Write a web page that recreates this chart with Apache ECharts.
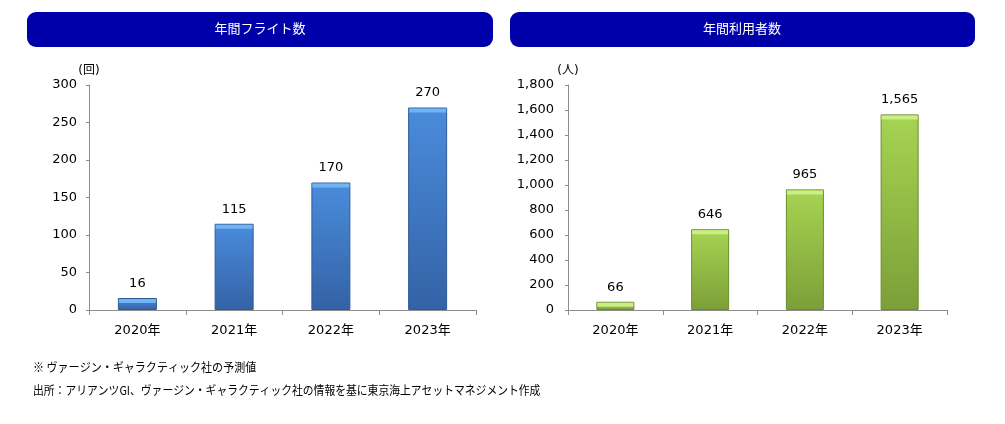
<!DOCTYPE html>
<html>
<head>
<meta charset="utf-8">
<script src="https://cdn.jsdelivr.net/npm/echarts@6/dist/echarts.min.js"></script>
<style>
html,body{margin:0;padding:0;background:#fff;}
#c{width:1005px;height:424px;}
</style>
</head>
<body>
<div id="c"></div>
<script>
const categories = ['2020年', '2021年', '2022年', '2023年'];
const flights = [16, 115, 170, 270];
const passengers = [66, 646, 965, 1565];
const leftTitle = '年間フライト数';
const rightTitle = '年間利用者数';
const leftUnit = '(回)';
const rightUnit = '(人)';
const note1 = '※ ヴァージン・ギャラクティック社の予測値';
const note2 = '出所：アリアンツGI、ヴァージン・ギャラクティック社の情報を基に東京海上アセットマネジメント作成';

const numFont = 'Verdana, "DejaVu Sans", sans-serif';
const jpFont = '"DejaVu Sans", "Noto Sans CJK JP", sans-serif';

function vgrad(top, bottom) {
  return new echarts.graphic.LinearGradient(0, 0, 0, 1, [
    {offset: 0, color: top}, {offset: 1, color: bottom}
  ]);
}

const chart = echarts.init(document.getElementById('c'));

function xAxis(gi) {
  return {
    type: 'category', gridIndex: gi, data: categories,
    axisLine: {lineStyle: {color: '#8c8c8c'}},
    axisTick: {show: true, length: 5, lineStyle: {color: '#8c8c8c'}},
    axisLabel: {color: '#000', fontSize: 13, fontFamily: jpFont, margin: 14}
  };
}
function yAxis(gi, max, interval, unit, margin) {
  return {
    type: 'value', gridIndex: gi, min: 0, max: max, interval: interval,
    name: unit, nameLocation: 'end', nameGap: 8,
    nameTextStyle: {color: '#000', fontSize: 12, fontFamily: jpFont, align: 'center'},
    axisLine: {show: true, lineStyle: {color: '#8c8c8c'}},
    axisTick: {show: true, length: 3, lineStyle: {color: '#8c8c8c'}},
    splitLine: {show: false},
    axisLabel: {
      color: '#000', fontSize: 13, fontFamily: numFont, margin: margin,
      formatter: v => v.toLocaleString('en-US')
    }
  };
}
function labelCfg() {
  return {show: true, position: 'top', distance: 8, color: '#000', fontSize: 13, fontFamily: numFont,
    formatter: p => p.value.toLocaleString('en-US')};
}

chart.setOption({
  animation: false,
  grid: [
    {left: 89, top: 85, width: 387, height: 225},
    {left: 568, top: 85, width: 379, height: 225}
  ],
  xAxis: [xAxis(0), xAxis(1)],
  yAxis: [yAxis(0, 300, 50, leftUnit, 12), yAxis(1, 1800, 200, rightUnit, 14)],
  series: [
    {
      type: 'bar', xAxisIndex: 0, yAxisIndex: 0, data: flights, barWidth: 39, z: 2,
      itemStyle: {color: vgrad('#4a8cdb', '#3462a6'), borderColor: '#2f5a99', borderWidth: 1},
      label: labelCfg()
    },
    {
      type: 'pictorialBar', xAxisIndex: 0, yAxisIndex: 0, data: flights, symbol: 'rect',
      symbolSize: [37, 4], symbolPosition: 'end', symbolOffset: [0, 1], z: 3, silent: true,
      itemStyle: {color: '#72b3f2'}
    },
    {
      type: 'bar', xAxisIndex: 1, yAxisIndex: 1, data: passengers, barWidth: 38, z: 2,
      itemStyle: {color: vgrad('#a6d452', '#7c9f38'), borderColor: '#6b8d2c', borderWidth: 1},
      label: labelCfg()
    },
    {
      type: 'pictorialBar', xAxisIndex: 1, yAxisIndex: 1, data: passengers, symbol: 'rect',
      symbolSize: [36, 4], symbolPosition: 'end', symbolOffset: [0, 1], z: 3, silent: true,
      itemStyle: {color: '#cbee86'}
    }
  ],
  graphic: [
    {type: 'rect', left: 27, top: 12, shape: {width: 466, height: 35, r: 9}, style: {fill: '#0000aa'}},
    {type: 'text', x: 260, y: 22, style: {text: leftTitle, fill: '#fff', font: '13px "Noto Sans CJK JP", sans-serif', textAlign: 'center'}},
    {type: 'rect', left: 510, top: 12, shape: {width: 465, height: 35, r: 9}, style: {fill: '#0000aa'}},
    {type: 'text', x: 742, y: 22, style: {text: rightTitle, fill: '#fff', font: '13px "Noto Sans CJK JP", sans-serif', textAlign: 'center'}},
    {type: 'text', x: 33, y: 361, scaleX: 0.92, style: {text: note1, fill: '#000', font: '12px "Noto Sans CJK JP", sans-serif'}},
    {type: 'text', x: 33, y: 384, scaleX: 0.9, style: {text: note2, fill: '#000', font: '12px "Noto Sans CJK JP", sans-serif'}}
  ]
});
</script>
</body>
</html>
